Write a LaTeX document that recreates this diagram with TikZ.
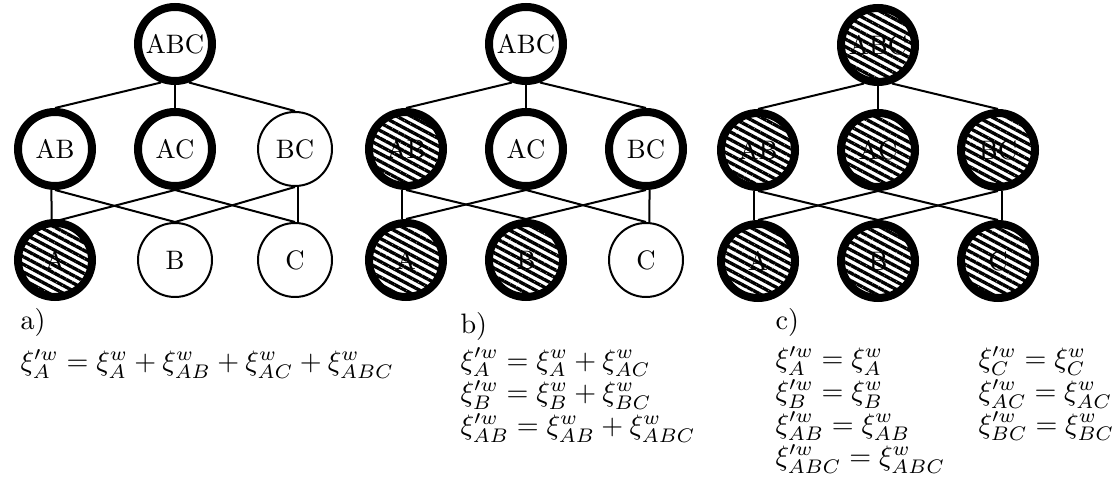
\documentclass[tikz,border=0pt]{standalone}
\usepackage{fontspec}
\usepackage{tikz}
\usetikzlibrary{positioning, patterns.meta}
\tikzset{
  lat/.style={circle, draw=black, minimum size=0.925cm, inner sep=0pt,
    font=\fontsize{9.5}{11}\selectfont},
  plainset/.style={lat, line width=0.025cm},
  boldset/.style={lat, line width=0.1cm},
  hatchset/.style={boldset,
    pattern={Lines[angle=-28, distance=0.085cm, line width=0.042cm]}},
  edge/.style={line width=0.025cm, color=black},
  eqs/.style={anchor=north west, inner sep=0pt, align=left,
    font=\fontsize{10}{11.6}\selectfont}
}
\begin{document}
\begin{tikzpicture}[node distance=1.3125cm and 1.5cm, on grid]
  \useasboundingbox (0,0) rectangle (13.9375,-6.0375);
  % a) only A marked
  \node[boldset] (aABC) at (2.1875,-0.55) {ABC};
  \node[boldset, below=of aABC] (aAC) {AC};
  \node[boldset, left=of aAC] (aAB) {AB};
  \node[plainset, right=of aAC] (aBC) {BC};
  \node[hatchset, below=1.3875cm of aAB] (aA) {A};
  \node[plainset, below=1.3875cm of aAC] (aB) {B};
  \node[plainset, below=1.3875cm of aBC] (aC) {C};
  % b) A, B and AB marked
  \node[boldset] (bABC) at (6.575,-0.55) {ABC};
  \node[boldset, below=of bABC] (bAC) {AC};
  \node[hatchset, left=of bAC] (bAB) {AB};
  \node[boldset, right=of bAC] (bBC) {BC};
  \node[hatchset, below=1.3875cm of bAB] (bA) {A};
  \node[hatchset, below=1.3875cm of bAC] (bB) {B};
  \node[plainset, below=1.3875cm of bBC] (bC) {C};
  % c) everything marked
  \node[hatchset] (cABC) at (10.975,-0.5625) {ABC};
  \node[hatchset, below=of cABC] (cAC) {AC};
  \node[hatchset, left=of cAC] (cAB) {AB};
  \node[hatchset, right=of cAC] (cBC) {BC};
  \node[hatchset, below=1.3875cm of cAB] (cA) {A};
  \node[hatchset, below=1.3875cm of cAC] (cB) {B};
  \node[hatchset, below=1.3875cm of cBC] (cC) {C};
  % Lattice edges
  \foreach \p in {a,b,c} {
    \draw[edge] (\p ABC.250) -- (\p AB.north);
    \draw[edge] (\p ABC.south) -- (\p AC.north);
    \draw[edge] (\p ABC.290) -- (\p BC.north);
    \draw[edge] (\p AB.265) -- (\p A.95);
    \draw[edge] (\p AB.south) -- (\p B.north);
    \draw[edge] (\p AC.south) -- (\p A.north);
    \draw[edge] (\p AC.south) -- (\p C.north);
    \draw[edge] (\p BC.south) -- (\p B.north);
    \draw[edge] (\p BC.275) -- (\p C.85);
  }
  % Equations
  \node[eqs] (eqa) at (0.25,-3.85) {a)\\[3pt]
    $\xi'^w_A = \xi^w_A + \xi^w_{AB} + \xi^w_{AC} + \xi^w_{ABC}$};
  \node[eqs] (eqb) at (5.75,-3.9) {b)\\[1pt]
    $\xi'^w_A = \xi^w_A + \xi^w_{AC}$\\
    $\xi'^w_B = \xi^w_B + \xi^w_{BC}$\\
    $\xi'^w_{AB} = \xi^w_{AB} + \xi^w_{ABC}$};
  \node[eqs] (eqc) at (9.6875,-3.85) {c)\\[2pt]
    $\xi'^w_A = \xi^w_A$\\
    $\xi'^w_B = \xi^w_B$\\
    $\xi'^w_{AB} = \xi^w_{AB}$\\
    $\xi'^w_{ABC} = \xi^w_{ABC}$};
  \node[eqs] (eqd) at (12.225,-3.85) {\phantom{c)}\\[2pt]
    $\xi'^w_C = \xi^w_C$\\
    $\xi'^w_{AC} = \xi^w_{AC}$\\
    $\xi'^w_{BC} = \xi^w_{BC}$};
\end{tikzpicture}
\end{document}
